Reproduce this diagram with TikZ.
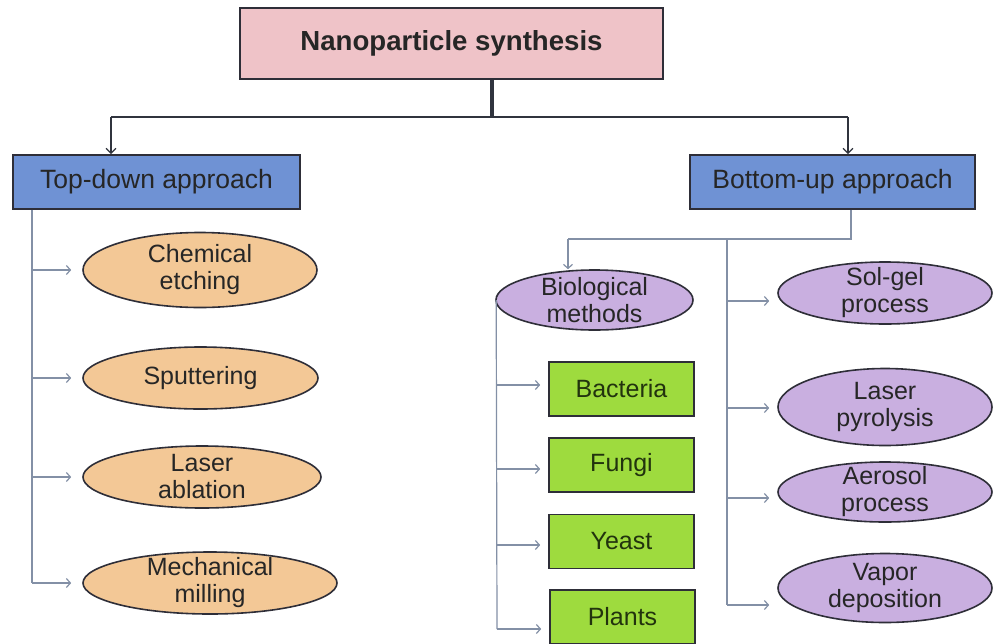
\documentclass[tikz,border=0pt]{standalone}
\usepackage{fontspec}
\setmainfont{Liberation Sans}
\usetikzlibrary{shapes.geometric,arrows.meta}
\definecolor{pinkc}{HTML}{EFC3C8}
\definecolor{bluec}{HTML}{6F92D4}
\definecolor{peachc}{HTML}{F3C896}
\definecolor{purplec}{HTML}{C9AFE0}
\definecolor{greenc}{HTML}{9EDB3E}
\definecolor{edgec}{HTML}{2E2E38}
\definecolor{connc}{HTML}{8390A6}
\definecolor{darkc}{HTML}{30343E}
\definecolor{textc}{HTML}{262626}
\definecolor{gtext}{HTML}{22330E}
\begin{document}
\begin{tikzpicture}[x=1pt,y=-1pt,
  every node/.style={font=\fontsize{25}{27}\selectfont, text=textc},
  rectbox/.style={draw=edgec, line width=1.6pt, rectangle, inner sep=0pt, align=center},
  ovl/.style={draw=edgec, line width=1.6pt, ellipse, inner sep=0pt},
  lbl/.style={align=center, inner sep=0pt, font=\fontsize{25}{27}\selectfont, text=textc},
  bluebox/.style={rectbox, fill=bluec, minimum height=54pt, font=\fontsize{26.5}{28}\selectfont},
  greenbox/.style={rectbox, fill=greenc, minimum width=145pt, minimum height=54pt, text=gtext},
  conn/.style={draw=connc, line width=1.2pt, -{Straight Barb[length=4pt,width=9pt]}},
  trunk/.style={draw=connc, line width=1.2pt},
  topconn/.style={draw=darkc, line width=1.3pt, -{Straight Barb[length=5pt,width=10pt]}}]
\useasboundingbox (0,0) rectangle (1001,643);
\fill[white] (0,0) rectangle (1001,643);

% title
\node[rectbox, fill=pinkc, minimum width=423pt, minimum height=71pt,
      font=\bfseries\fontsize{27.6}{29}\selectfont] (title) at (451.5,43.5) {Nanoparticle synthesis};

% approach boxes
\node[bluebox, minimum width=287pt] (td) at (156.5,182) {Top-down approach};
\node[bluebox, minimum width=285pt] (bu) at (832.5,182) {Bottom-up approach};

% top-down children
\node[ovl, fill=peachc, minimum width=234pt, minimum height=75pt,
      label={[lbl]center:Chemical\\etching}] (t1) at (200,270) {};
\node[ovl, fill=peachc, minimum width=235pt, minimum height=62pt,
      label={[lbl]center:Sputtering}] (t2) at (200.5,378) {};
\node[ovl, fill=peachc, minimum width=238pt, minimum height=62pt,
      label={[lbl]center:Laser\\ablation}] (t3) at (202,477) {};
\node[ovl, fill=peachc, minimum width=254pt, minimum height=62pt,
      label={[lbl]center:Mechanical\\milling}] (t4) at (210,583) {};

% bottom-up children
\node[ovl, fill=purplec, minimum width=197pt, minimum height=60pt,
      label={[lbl]center:Biological\\methods}] (bio) at (594.5,300) {};
\node[greenbox] (g1) at (621.5,389) {Bacteria};
\node[greenbox] (g2) at (621.5,465) {Fungi};
\node[greenbox] (g3) at (621.5,541.5) {Yeast};
\node[greenbox] (g4) at (622.5,617) {Plants};

\node[ovl, fill=purplec, minimum width=214pt, minimum height=62pt,
      label={[lbl]center:Sol-gel\\process}] (p1) at (885,293) {};
\node[ovl, fill=purplec, minimum width=214pt, minimum height=77pt,
      label={[lbl]center:Laser\\pyrolysis}] (p2) at (885,407) {};
\node[ovl, fill=purplec, minimum width=214pt, minimum height=60pt,
      label={[lbl]center:Aerosol\\process}] (p3) at (885,492) {};
\node[ovl, fill=purplec, minimum width=214pt, minimum height=69pt,
      label={[lbl]center:Vapor\\deposition}] (p4) at (885,588) {};

% top connectors
\coordinate (J) at (492,117);
\coordinate (JL) at (111,117);
\coordinate (JR) at (848,117);
\draw[darkc, line width=3.5pt] (title.south -| J) -- (J);
\draw[darkc, line width=2pt] (JL) -- (JR);
\draw[topconn] (JL) -- (JL |- td.north);
\draw[topconn] (JR) -- (JR |- bu.north);

% top-down branch
\coordinate (tv) at (32,0);
\draw[trunk] (td.south -| tv) -- (tv |- t4.west);
\foreach \n in {t1,t2,t3,t4}
  \draw[conn, shorten >=11pt] (tv |- \n.west) -- (\n.west);

% bottom-up branch
\coordinate (bj) at (851,239);
\coordinate (bl) at (568,239);
\coordinate (bv) at (727,239);
\draw[trunk] (bu.south -| bj) -- (bj) -- (bl);
\draw[conn] (bl) -- (bl |- bio.north);

\draw[trunk] (bv) -- ([yshift=-17pt]bv |- p4.west);
\foreach \n/\s in {p1/8,p2/1,p3/6,p4/17}
  \draw[conn, shorten >=8pt] ([yshift=-\s pt]bv |- \n.west) -- ([yshift=-\s pt]\n.west);

% biological branch
\coordinate (gv) at (497,0);
\draw[trunk] ([xshift=1pt]bio.west) -- ([yshift=-12pt]gv |- g4.west);
\foreach \n/\s in {g1/-4,g2/4,g3/3.5,g4/12}
  \draw[conn, shorten >=8pt] ([yshift=-\s pt]gv |- \n.west) -- ([yshift=-\s pt]\n.west);
\end{tikzpicture}
\end{document}
